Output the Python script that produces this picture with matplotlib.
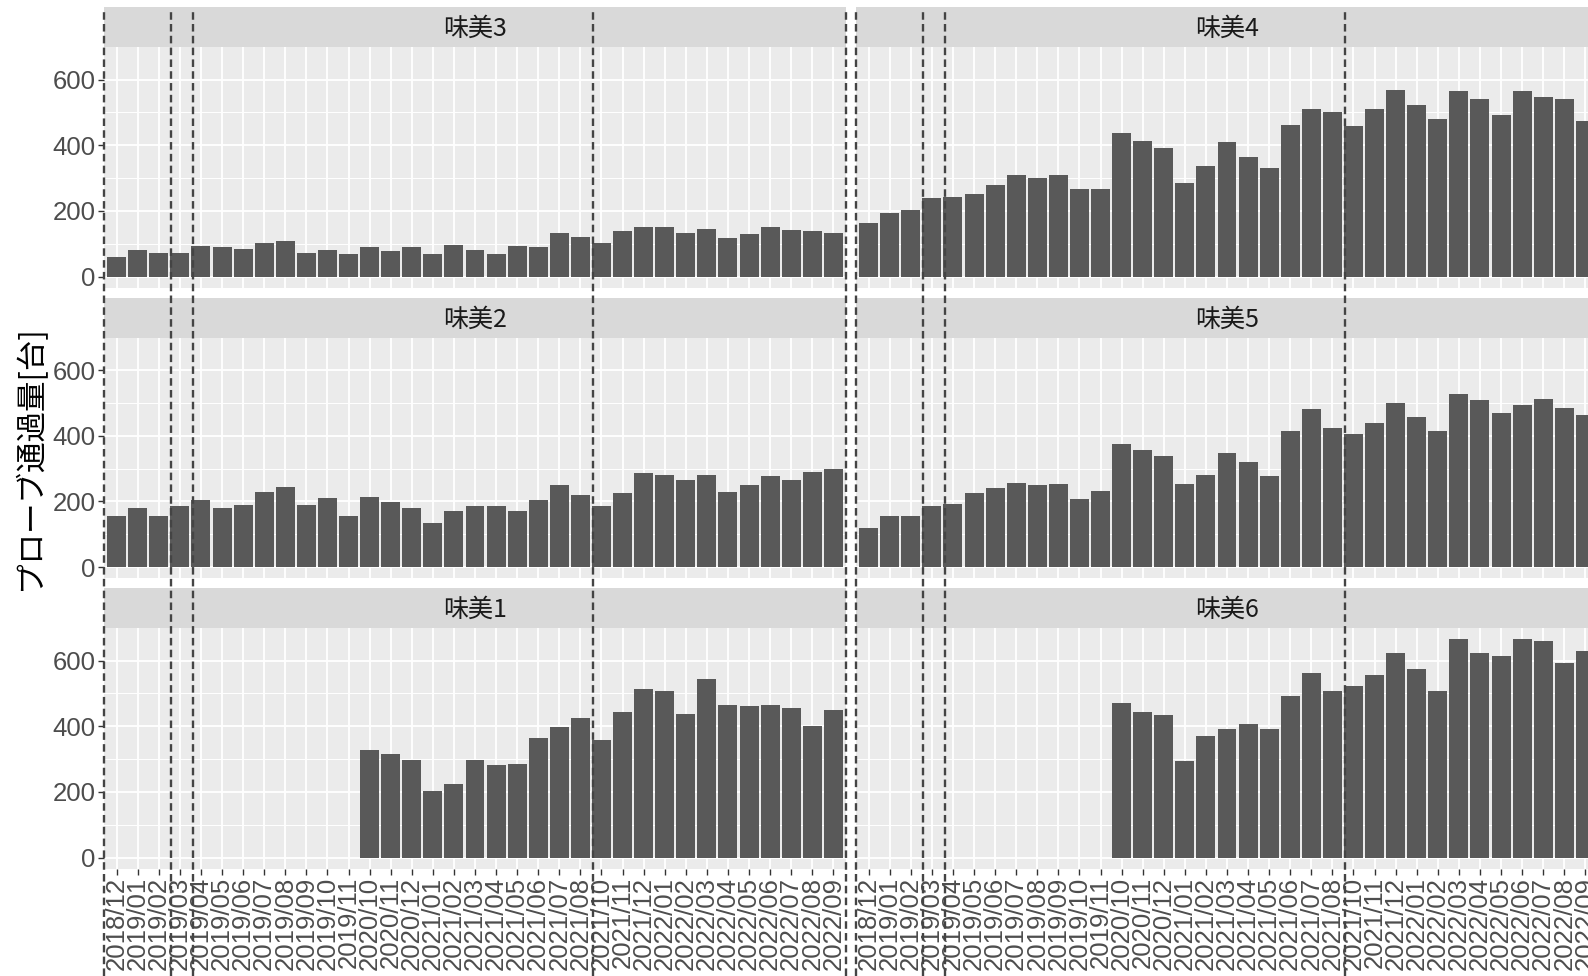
import matplotlib
matplotlib.use("Agg")
import matplotlib.pyplot as plt
import numpy as np
from matplotlib import transforms
from matplotlib.lines import Line2D
from matplotlib.patches import Rectangle

plt.rcParams['font.family'] = ['Liberation Sans', 'Noto Sans CJK JP', 'DejaVu Sans']

months = ["2018/12", "2019/01", "2019/02", "2019/03", "2019/04", "2019/05", "2019/06",
          "2019/07", "2019/08", "2019/09", "2019/10", "2019/11", "2020/10", "2020/11",
          "2020/12", "2021/01", "2021/02", "2021/03", "2021/04", "2021/05", "2021/06",
          "2021/07", "2021/08", "2021/10", "2021/11", "2021/12", "2022/01", "2022/02",
          "2022/03", "2022/04", "2022/05", "2022/06", "2022/07", "2022/08", "2022/09"]

nan = np.nan
mimi3 = [60, 81, 72, 71, 93, 89, 85, 101, 109, 72, 81, 68, 89, 77, 89, 68, 96, 81,
         68, 93, 89, 133, 121, 101, 138, 150, 150, 133, 146, 117, 130, 150, 142, 138, 133]
mimi2 = [156, 180, 156, 185, 204, 180, 189, 229, 245, 189, 209, 156, 212, 197, 180, 135,
         172, 185, 185, 172, 204, 249, 221, 185, 225, 286, 281, 265, 281, 229, 249, 277,
         265, 290, 298]
mimi1 = [nan] * 12 + [327, 316, 297, 202, 224, 297, 281, 285, 365, 398, 426, 358, 443,
                      515, 508, 438, 543, 466, 462, 466, 455, 402, 451]
mimi4 = [162, 194, 202, 239, 243, 251, 280, 308, 300, 308, 267, 267, 438, 413, 393, 284,
         337, 409, 365, 332, 462, 511, 502, 458, 511, 568, 523, 479, 564, 540, 491, 564,
         548, 540, 474]
mimi5 = [118, 156, 156, 185, 192, 225, 241, 257, 249, 254, 208, 233, 376, 356, 339, 254,
         281, 348, 319, 277, 414, 480, 423, 405, 439, 501, 456, 414, 526, 509, 468, 493,
         513, 485, 464]
mimi6 = [nan] * 12 + [472, 443, 434, 293, 370, 391, 407, 391, 491, 561, 508, 524, 556,
                      622, 573, 508, 666, 622, 613, 666, 661, 593, 630]

# facet order: (label, values, row, col)
panels = [("味美3", mimi3, 0, 0), ("味美2", mimi2, 1, 0), ("味美1", mimi1, 2, 0),
          ("味美4", mimi4, 0, 1), ("味美5", mimi5, 1, 1), ("味美6", mimi6, 2, 1)]

# dashed guide lines (category units, 0-based)
vline_pos = [-0.6, 2.6, 3.6, 22.6, 34.6]

W, H = 1588, 976
fig = plt.figure(figsize=(W / 100, H / 100), dpi=100)

col_x = [104, 856]
panel_w = 742
row_top = [47, 337.5, 628]
panel_h = 240.5
strip_h = 40

ymax = np.nanmax(np.concatenate([np.array(p[1], dtype=float) for p in panels]))
x = np.arange(len(months))
top_axes = []

for name, vals, row, col in panels:
    vals = np.array(vals, dtype=float)
    ax = fig.add_axes([col_x[col] / W, 1 - (row_top[row] + panel_h) / H, panel_w / W, panel_h / H])
    ax.set_facecolor('#EBEBEB')
    ok = ~np.isnan(vals)
    ax.bar(x[ok], vals[ok], width=0.9, color='#595959', zorder=2)
    ax.set_xlim(-0.6, len(months) - 0.4)
    ax.set_ylim(-0.05 * ymax, 1.05 * ymax)
    ax.set_xticks(x)
    ax.set_xticklabels(months, rotation=90, va='top', ha='center')
    ax.set_yticks([0, 200, 400, 600])
    ax.set_yticks([100, 300, 500], minor=True)
    ax.grid(which='major', color='white', lw=1.3)
    ax.grid(which='minor', axis='y', color='white', lw=0.7)
    ax.set_axisbelow(True)
    for s in ax.spines.values():
        s.set_visible(False)
    ax.tick_params(axis='both', which='major', length=4, width=1, color='#333333',
                   labelcolor='#4D4D4D', labelsize=18.5, pad=2)
    ax.tick_params(axis='y', which='minor', length=0)
    if row != 2:
        ax.tick_params(axis='x', length=0, labelbottom=False)
    if col != 0:
        ax.tick_params(axis='y', length=0, labelleft=False)

    # facet strip
    sh = strip_h / panel_h
    ax.add_patch(Rectangle((0, 1), 1, sh, transform=ax.transAxes, facecolor='#D9D9D9',
                           edgecolor='none', clip_on=False))
    ax.text(0.5, 1 + sh * 0.45, name, transform=ax.transAxes, ha='center', va='center',
            fontsize=18, color='#1A1A1A', family=['Noto Sans CJK JP', 'DejaVu Sans'])
    if row == 0:
        top_axes.append(ax)

# dashed lines running through the whole column
for ax in top_axes:
    trans = transforms.blended_transform_factory(ax.transData, fig.transFigure)
    for p in vline_pos:
        fig.add_artist(Line2D([p, p], [0, 1 - 8 / H], transform=trans, color='#444444',
                              lw=1.7, ls=(0, (3.2, 1.8)), zorder=10))

fig.text(30 / W, 1 - 458 / H, "プローブ通過量[台]", rotation=90, ha='center', va='center',
         fontsize=22, color='black', family=['Noto Sans CJK JP', 'DejaVu Sans'])

fig.savefig("out.png", dpi=100, facecolor='white')
